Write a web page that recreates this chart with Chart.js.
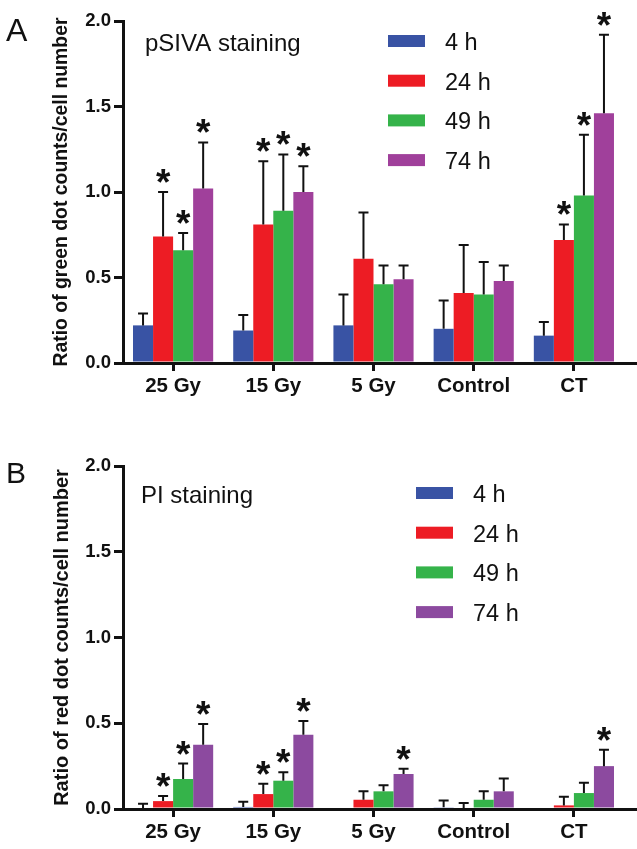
<!DOCTYPE html>
<html>
<head>
<meta charset="utf-8">
<script src="https://cdn.jsdelivr.net/npm/chart.js@4.4.1/dist/chart.umd.min.js"></script>
<style>
    body { margin: 0; background: #fff; width: 637px; height: 849px; position: relative; overflow: hidden; font-family: "Liberation Sans", Arial, sans-serif; }
    .panel { position: absolute; left: 0; width: 637px; }
    .letter { position: absolute; left: 6px; color: #111; line-height: 1; }
</style>
</head>
<body>
<div class="panel" style="top:0;height:425px"><canvas id="chartA" width="637" height="425"></canvas></div>
<div class="panel" style="top:425px;height:424px"><canvas id="chartB" width="637" height="424"></canvas></div>
<div class="letter" style="top:14px;font-size:32px">A</div>
<div class="letter" style="top:458px;font-size:30px">B</div>
<script>
const categories = ['25 Gy', '15 Gy', '5 Gy', 'Control', 'CT'];
const timepoints = ['4 h', '24 h', '49 h', '74 h'];
const yTickValues = [0, 0.5, 1.0, 1.5, 2.0];
const colorsA = ['#3953a4', '#ed1c24', '#35b34a', '#a0409b'];
const colorsB = ['#3953a4', '#ed1c24', '#35b34a', '#8c4a9f'];

// A: pSIVA staining, means and upper error (SEM)
const pSIVA_4h  = [0.22, 0.19, 0.22, 0.20, 0.16];
const pSIVA_24h = [0.74, 0.81, 0.61, 0.41, 0.72];
const pSIVA_49h = [0.66, 0.89, 0.46, 0.40, 0.98];
const pSIVA_74h = [1.02, 1.00, 0.49, 0.48, 1.46];
const pSIVA_4h_err  = [0.07, 0.09, 0.18, 0.165, 0.08];
const pSIVA_24h_err = [0.26, 0.37, 0.27, 0.28, 0.09];
const pSIVA_49h_err = [0.10, 0.33, 0.11, 0.19, 0.355];
const pSIVA_74h_err = [0.27, 0.15, 0.08, 0.09, 0.46];
const pSIVA_4h_sig  = [0, 0, 0, 0, 0];
const pSIVA_24h_sig = [1, 1, 0, 0, 1];
const pSIVA_49h_sig = [1, 1, 0, 0, 1];
const pSIVA_74h_sig = [1, 1, 0, 0, 1];

// B: PI staining
const PI_4h  = [0.0, 0.012, 0.0, 0.01, 0.0];
const PI_24h = [0.046, 0.087, 0.054, 0.0, 0.021];
const PI_49h = [0.175, 0.165, 0.103, 0.054, 0.093];
const PI_74h = [0.375, 0.433, 0.204, 0.103, 0.25];
const PI_4h_err  = [0.03, 0.03, 0, 0.04, 0];
const PI_24h_err = [0.03, 0.06, 0.05, 0.035, 0.05];
const PI_49h_err = [0.09, 0.05, 0.035, 0.05, 0.06];
const PI_74h_err = [0.12, 0.08, 0.03, 0.075, 0.095];
const PI_4h_sig  = [0, 0, 0, 0, 0];
const PI_24h_sig = [1, 1, 0, 0, 0];
const PI_49h_sig = [1, 1, 0, 0, 0];
const PI_74h_sig = [1, 1, 1, 0, 1];

const FONT = '"Liberation Sans", Arial, sans-serif';
const INK = '#111';
Chart.defaults.font.family = FONT;

// one-sided error bars with significance stars
const errorBarPlugin = {
    id: 'errorBars',
    afterDatasetsDraw(chart) {
        const ctx = chart.ctx;
        const yScale = chart.scales.y;
        chart.data.datasets.forEach((ds, i) => {
            const meta = chart.getDatasetMeta(i);
            meta.data.forEach((bar, j) => {
                const err = ds.errors[j];
                if (!err) return;
                const top = yScale.getPixelForValue(ds.data[j] + err);
                ctx.save();
                ctx.strokeStyle = INK;
                ctx.lineWidth = 2;
                ctx.beginPath();
                ctx.moveTo(bar.x, bar.y);
                ctx.lineTo(bar.x, top);
                ctx.moveTo(bar.x - 5, top);
                ctx.lineTo(bar.x + 5, top);
                ctx.stroke();
                if (ds.stars[j]) {
                    ctx.fillStyle = INK;
                    ctx.font = 'bold 37px ' + FONT;
                    ctx.textAlign = 'center';
                    ctx.textBaseline = 'alphabetic';
                    ctx.fillText('*', bar.x, top + 3);
                }
                ctx.restore();
            });
        });
    }
};

// staining label + legend inside the plot, and axis line running to the edge
const panelTextPlugin = {
    id: 'panelText',
    afterDraw(chart, args, opts) {
        const ctx = chart.ctx;
        const area = chart.chartArea;
        ctx.save();
        ctx.strokeStyle = INK;
        ctx.lineWidth = 3;
        ctx.beginPath();
        ctx.moveTo(area.right, area.bottom + 0.5);
        ctx.lineTo(chart.width, area.bottom + 0.5);
        ctx.stroke();

        ctx.fillStyle = INK;
        ctx.textBaseline = 'alphabetic';
        ctx.font = '24px ' + FONT;
        ctx.fillText(opts.title, opts.titleX, opts.titleY);
        ctx.font = '23.5px ' + FONT;
        chart.data.datasets.forEach((ds, i) => {
            const cy = opts.legendY + i * opts.rowGap;
            ctx.fillStyle = ds.backgroundColor;
            ctx.fillRect(opts.legendX, cy - 6, 37, 12);
            ctx.fillStyle = INK;
            ctx.fillText(ds.label, opts.legendX + 57, cy + 9);
        });
        ctx.restore();
    }
};

function makeChart(id, series, errors, stars, colors, yTitle, titleSize, text, padTop, xHeight) {
    const datasets = series.map((values, i) => ({
        label: timepoints[i],
        data: values,
        errors: errors[i],
        stars: stars[i],
        backgroundColor: colors[i],
        borderWidth: 0,
        barPercentage: 1.0,
        categoryPercentage: 0.8
    }));

    return new Chart(document.getElementById(id), {
        type: 'bar',
        data: { labels: categories, datasets: datasets },
        options: {
            responsive: false,
            animation: false,
            layout: { padding: { left: 0, right: 13, top: padTop, bottom: 0 } },
            plugins: {
                legend: { display: false },
                tooltip: { enabled: false },
                panelText: text
            },
            scales: {
                x: {
                    grid: { drawOnChartArea: false, drawTicks: true, tickLength: 8, color: INK, lineWidth: 3, offset: false },
                    border: { display: true, color: INK, width: 3 },
                    ticks: { color: INK, font: { size: 20.5, weight: 'bold' }, padding: 3, maxRotation: 0 },
                    afterFit(scale) { scale.height = xHeight; }
                },
                y: {
                    min: 0,
                    max: 2,
                    afterBuildTicks(scale) { scale.ticks = yTickValues.map(v => ({ value: v })); },
                    grid: { drawOnChartArea: false, tickLength: 9, color: INK, lineWidth: 3 },
                    border: { display: true, color: INK, width: 3 },
                    ticks: { color: INK, font: { size: 18.5, weight: 'bold' }, padding: 3, callback: v => v.toFixed(1) },
                    title: { display: true, text: yTitle, color: INK, font: { size: titleSize, weight: 'bold' }, padding: { top: 50, bottom: 0 } },
                    afterFit(scale) { scale.width = 123; }
                }
            }
        },
        plugins: [errorBarPlugin, panelTextPlugin]
    });
}

makeChart('chartA',
    [pSIVA_4h, pSIVA_24h, pSIVA_49h, pSIVA_74h],
    [pSIVA_4h_err, pSIVA_24h_err, pSIVA_49h_err, pSIVA_74h_err],
    [pSIVA_4h_sig, pSIVA_24h_sig, pSIVA_49h_sig, pSIVA_74h_sig],
    colorsA,
    'Ratio of green dot counts/cell number', 19.4,
    { title: 'pSIVA staining', titleX: 145, titleY: 51, legendX: 388, legendY: 41, rowGap: 39.7 },
    21, 62);

makeChart('chartB',
    [PI_4h, PI_24h, PI_49h, PI_74h],
    [PI_4h_err, PI_24h_err, PI_49h_err, PI_74h_err],
    [PI_4h_sig, PI_24h_sig, PI_49h_sig, PI_74h_sig],
    colorsB,
    'Ratio of red dot counts/cell number', 20,
    { title: 'PI staining', titleX: 141, titleY: 78, legendX: 416, legendY: 68, rowGap: 39.7 },
    41, 40);
</script>
</body>
</html>
